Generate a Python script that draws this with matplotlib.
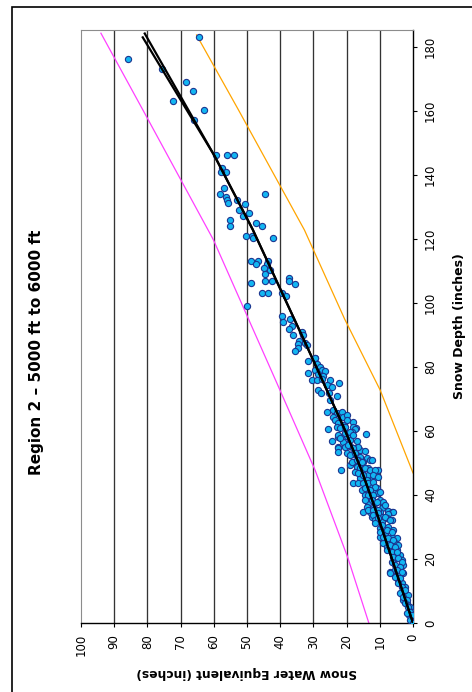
import matplotlib.pyplot as plt
import numpy as np
from matplotlib.patches import Rectangle

# Snow course readings, region 2 (5000-6000 ft): water equivalent vs depth, inches
swe = [
    # deep snowpack
    64.5, 85.9, 75.7, 68.5, 66.4, 72.3, 63.0, 66.1, 59.3, 56.0, 54.0, 57.6,
    56.4, 57.8, 56.9, 58.2, 44.5, 56.2, 55.9, 55.7, 53.1, 50.7, 52.4, 49.3,
    51.1, 55.1, 47.4, 55.1, 45.4, 50.4, 48.4, 48.1, 42.3,
    # 80-115 in
    48.9, 46.6, 47.2, 43.8, 44.1, 45.0, 43.1, 44.7, 48.9, 44.5, 42.6, 37.4,
    37.4, 35.6, 45.6, 43.6, 39.5, 38.3, 50.1, 39.5, 39.2, 37.0, 36.4, 37.4,
    33.5, 33.0, 36.1, 34.2, 32.5, 34.5, 32.0, 34.7, 35.5, 29.4, 31.5,
    # 60-83 in
    29.5, 29.0, 28.0, 29.5, 27.5, 26.5, 31.5, 28.5, 27.2, 30.5, 29.0, 27.5,
    25.0, 22.2, 26.0, 24.3, 28.5, 27.7, 25.2, 22.8, 25.0, 25.8, 24.0, 23.0,
    21.5, 24.0, 21.0, 20.0, 23.5, 22.5, 20.0, 18.2, 21.0, 21.5, 17.2, 25.5,
    # 34-62 in
    24.5, 23.0, 22.0, 20.5, 18.0, 17.5, 18.5, 14.2, 22.5, 21.5, 20.0, 21.0,
    19.0, 17.0, 22.5, 20.5, 19.0, 17.5, 16.0, 14.5, 20.0, 18.0, 16.0, 13.9,
    18.0, 16.5, 15.0, 13.0, 19.0, 17.0, 15.0, 13.5, 21.8, 17.5, 15.5, 13.5,
    10.5, 16.0, 13.9, 12.0, 18.0, 16.5, 14.5, 12.4, 10.9, 15.5, 13.5, 11.4,
    14.5, 12.4, 10.5, 9.9, 13.5, 11.4, 8.9, 13.9, 12.0, 9.4, 7.4, 13.0,
    9.9, 6.4, 15.0,
    22.7, 22.0, 20.5, 19.0, 18.0, 16.5, 19.5, 18.0, 19.0, 17.5, 18.5, 17.0,
    15.5, 12.4, 16.0, 14.5, 13.0, 11.4, 16.5, 15.0, 12.0, 10.5, 15.0, 13.5,
    12.0, 11.4, 14.5, 13.0, 9.9, 13.5, 12.0, 14.5, 12.4, 10.9, 8.4, 13.5,
    12.0, 10.5, 5.9, 12.4, 10.9, 9.4, 7.9, 22.7, 22.5,
    # shallow snowpack
    12.0, 10.5, 7.4, 11.4, 9.4, 7.9, 6.4, 9.9, 7.4, 5.9, 9.9, 8.4,
    6.4, 4.9, 8.9, 6.9, 5.4, 7.9, 6.4, 4.9, 4.4, 5.9, 3.9, 4.9,
    3.4, 6.9, 5.4, 3.9, 2.9, 4.4, 3.1, 4.4, 3.4, 2.4, 2.9, 1.4,
    2.9, 1.9, 0.9, 0.4, 1.1, 0.0, 0.4,
    10.5, 8.4, 6.9, 11.4, 9.4, 9.9, 7.9, 6.4, 8.9, 7.4, 5.9, 6.9,
    5.4, 7.9, 6.4, 4.9, 5.9, 4.4, 3.4, 6.4, 5.4, 3.9, 4.9, 3.4,
    6.9, 5.4, 3.9, 4.4, 3.4, 2.4, 3.9, 2.9, 1.9, 2.4, 1.4, 0.9,
    1.9, 0.4, 0.9, 0.0,
]
depth = [
    183.2, 176.2, 173.1, 169.2, 166.3, 163.2, 160.2, 157.3, 146.1, 146.1, 146.1, 142.1,
    141.0, 141.0, 136.0, 134.2, 134.2, 133.2, 132.2, 131.2, 132.1, 131.0, 129.1, 128.1,
    127.1, 126.0, 125.1, 124.1, 124.1, 121.0, 121.0, 120.2, 120.2,
    113.1, 113.1, 112.1, 113.1, 112.1, 111.0, 110.3, 109.1, 106.2, 107.0, 107.0, 107.9,
    107.0, 106.0, 103.0, 103.0, 103.0, 102.1, 99.0, 96.0, 94.1, 95.0, 92.9, 92.0,
    91.0, 90.0, 90.0, 88.1, 87.4, 87.1, 86.9, 85.8, 85.0, 82.9, 82.0,
    82.7, 80.9, 80.1, 79.1, 79.1, 78.8, 78.0, 77.7, 77.2, 75.9, 75.9, 76.2,
    75.9, 74.9, 74.4, 73.8, 72.8, 71.8, 71.8, 70.9, 69.7, 66.0, 66.6, 65.5,
    65.8, 64.5, 64.3, 64.9, 63.4, 62.4, 63.4, 62.9, 61.9, 61.2, 60.8, 60.5,
    56.9, 61.4, 60.8, 61.4, 61.4, 60.6, 59.8, 59.0, 58.2, 57.7, 58.5, 56.7,
    57.2, 56.9, 55.1, 55.1, 55.4, 54.6, 54.1, 53.8, 53.0, 52.7, 52.0, 51.5,
    50.4, 50.9, 50.4, 50.9, 49.4, 48.8, 48.5, 48.3, 47.8, 47.3, 46.8, 46.3,
    47.8, 45.2, 44.7, 45.2, 43.7, 43.7, 43.1, 43.1, 42.1, 41.6, 41.0, 41.0,
    40.0, 39.5, 40.5, 38.4, 37.4, 37.4, 37.9, 36.3, 35.8, 35.8, 35.0, 34.6,
    34.6, 34.6, 34.8,
    58.8, 57.7, 59.5, 59.8, 58.8, 55.1, 55.6, 54.6, 52.5, 53.0, 50.4, 50.9,
    50.4, 50.9, 48.3, 48.3, 47.8, 47.8, 46.8, 46.3, 46.3, 45.7, 43.7, 43.7,
    44.2, 42.6, 42.1, 41.6, 41.0, 40.0, 40.0, 38.4, 38.4, 37.9, 36.9, 35.3,
    35.3, 35.3, 34.8, 33.2, 33.2, 33.0, 33.0, 54.6, 53.5,
    33.8, 34.3, 34.1, 32.2, 31.7, 32.7, 32.2, 29.6, 30.1, 29.1, 27.0, 27.5,
    27.0, 26.5, 24.9, 25.4, 24.9, 23.8, 23.3, 22.8, 24.4, 21.8, 21.3, 20.2,
    19.7, 16.0, 16.6, 17.1, 18.1, 15.0, 15.5, 13.4, 12.4, 11.3, 9.8, 8.8,
    7.2, 6.2, 5.1, 3.5, 2.5, 0.9, 1.5,
    32.7, 33.2, 32.2, 31.2, 30.6, 28.5, 29.1, 28.5, 27.0, 26.5, 25.9, 24.4,
    23.8, 22.8, 22.3, 22.3, 20.7, 20.2, 19.2, 19.2, 18.1, 17.6, 16.6, 16.0,
    15.5, 14.5, 14.0, 12.4, 11.3, 10.3, 9.3, 8.2, 7.2, 6.2, 5.1, 3.5,
    3.0, 2.5, 0.9, 0.0,
]

# trend curves through the cloud (two fits that part above ~145 in)
fit_a_depth = [0, 18, 34, 48, 61, 87, 123, 146, 183.0]
fit_a_swe = [0, 5.7, 10.8, 15.6, 20.8, 32.2, 48.3, 59.8, 81.4]
fit_b_depth = [0, 18, 34, 48, 61, 87, 123, 146, 184.2]
fit_b_swe = [0, 5.7, 10.8, 15.6, 20.8, 32.2, 48.3, 59.8, 80.8]

# upper and lower envelope lines
upper_depth = [0, 20.6, 47.8, 75.9, 119.7, 160.2, 184.3]
upper_swe = [13.3, 19.7, 29.5, 41.4, 60.1, 81.3, 94.0]
lower_depth = [46.9, 72.8, 95.0, 122.8, 160.2, 183.75]
lower_swe = [0, 9.9, 20.6, 32.7, 52.5, 65.2]

swe_ticks = np.arange(0, 101, 10)
depth_ticks = np.arange(0, 181, 20)

W, H = 472, 692
fig = plt.figure(figsize=(W / 100, H / 100), dpi=100)
ax = fig.add_axes([81 / W, 1 - 623 / H, (413 - 81) / W, (623 - 30) / H])

for v in swe_ticks[1:-1]:
    ax.axvline(v, color="#333333", lw=0.95, zorder=1)

ax.scatter(swe, depth, s=20, c="#12b6f2", edgecolors="#1b3690",
           linewidths=0.8, zorder=3)
ax.plot(upper_swe, upper_depth, color="#ff40ff", lw=0.9, zorder=2)
ax.plot(lower_swe, lower_depth, color="#ffa500", lw=0.9, zorder=2)
ax.plot(fit_a_swe, fit_a_depth, color="black", lw=1.6, zorder=4)
ax.plot(fit_b_swe, fit_b_depth, color="black", lw=1.6, zorder=4)

ax.set_xlim(100, 0)
ax.set_ylim(0, 185.3)
ax.set_xticks(swe_ticks)
ax.set_yticks(depth_ticks)
ax.yaxis.tick_right()
ax.tick_params(axis="x", rotation=90, labelsize=8.5, length=3, pad=5,
               direction="out")
ax.tick_params(axis="y", rotation=90, labelsize=8.5, length=3, pad=5,
               direction="out")
for lbl in ax.get_yticklabels():
    lbl.set_va("center")

for side in ("left", "top"):
    ax.spines[side].set_color("#8c8c8c")
for side in ("right", "bottom"):
    ax.spines[side].set_color("black")
    ax.spines[side].set_linewidth(1.0)

fig.text(37 / W, 1 - 352 / H, "Region 2 \u2013 5000 ft to 6000 ft",
         rotation=90, ha="center", va="center", fontsize=11,
         fontweight="bold")
fig.text(460 / W, 1 - 326 / H, "Snow Depth (inches)", rotation=90,
         ha="center", va="center", fontsize=9, fontweight="bold")
fig.text(247 / W, 1 - 673 / H, "Snow Water Equivalent (inches)",
         rotation=180, ha="center", va="center", fontsize=8.8,
         fontweight="bold")

# chart frame, runs off the right and bottom edges
fig.patches.append(Rectangle((12 / W, -0.05), 1.0, 1 - 7 / H + 0.05,
                             transform=fig.transFigure, fill=False,
                             ec="black", lw=1.2))

fig.savefig("out.png", dpi=100)
